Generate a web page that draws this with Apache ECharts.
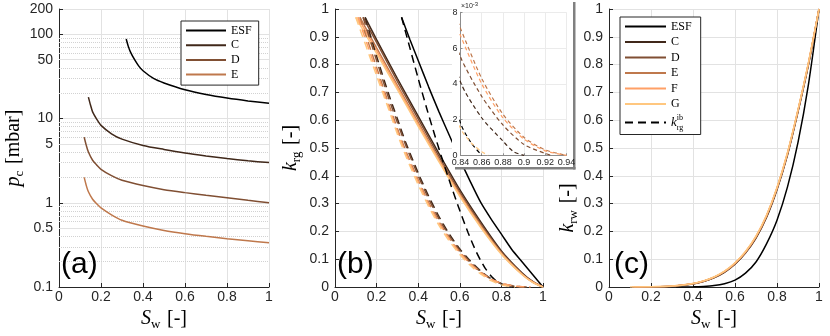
<!DOCTYPE html>
<html>
<head>
<meta charset="utf-8">
<script src="https://cdn.jsdelivr.net/npm/echarts@6/dist/echarts.min.js"></script>
<style>
  html, body { margin: 0; padding: 0; background: #fff; }
  #chart { width: 830px; height: 336px; }
</style>
</head>
<body>
<div id="chart"></div>
<script>
// (a) capillary pressure p_c [mbar] vs S_w
const pcESF = [[0.32,88],[0.33,72],[0.34,62],[0.36,50],[0.38,42],[0.40,37],[0.45,30],[0.5,26.5],[0.6,22],[0.7,19.3],[0.8,17.5],[0.9,16.2],[1,15.2]]
const pcC = [[0.14,18],[0.15,14.5],[0.16,12],[0.18,9.8],[0.2,8.3],[0.25,6.6],[0.3,5.7],[0.4,4.8],[0.5,4.3],[0.6,3.9],[0.7,3.6],[0.8,3.35],[0.9,3.15],[1,3.0]]
const pcD = [[0.12,6.0],[0.13,4.8],[0.14,4.0],[0.16,3.2],[0.18,2.8],[0.2,2.5],[0.25,2.1],[0.3,1.85],[0.4,1.6],[0.5,1.43],[0.6,1.32],[0.7,1.23],[0.8,1.15],[0.9,1.07],[1,1.0]]
const pcE = [[0.12,2.0],[0.13,1.6],[0.14,1.35],[0.16,1.1],[0.18,0.97],[0.2,0.87],[0.25,0.72],[0.3,0.62],[0.4,0.53],[0.5,0.47],[0.6,0.43],[0.7,0.4],[0.8,0.375],[0.9,0.355],[1,0.335]]

// log axis extra labels / minor grid
const pcMajorTicks = [0.5, 5, 50]
const pcMinorTicks = [0.2,0.3,0.4,0.6,0.7,0.8,0.9,2,3,4,6,7,8,9,20,30,40,60,70,80,90]

// (b) gas rel. perm k_rg, solid
const krgESF = [[0.32,0.97],[0.36,0.89],[0.4,0.815],[0.45,0.72],[0.5,0.63],[0.55,0.545],[0.6,0.46],[0.65,0.38],[0.7,0.305],[0.75,0.245],[0.8,0.19],[0.85,0.135],[0.9,0.09],[0.95,0.045],[1,0]]
const krgC = [[0.145,0.97],[0.2,0.89],[0.3,0.75],[0.4,0.615],[0.5,0.48],[0.6,0.35],[0.7,0.235],[0.8,0.13],[0.9,0.05],[0.95,0.02],[1,0]]
const krgD = [[0.135,0.97],[0.2,0.88],[0.3,0.74],[0.4,0.605],[0.5,0.47],[0.6,0.342],[0.7,0.228],[0.8,0.126],[0.9,0.048],[0.95,0.019],[1,0]]
const krgE = [[0.12,0.97],[0.2,0.86],[0.3,0.725],[0.4,0.592],[0.5,0.46],[0.6,0.335],[0.7,0.222],[0.8,0.122],[0.9,0.046],[0.95,0.018],[1,0]]
const krgF = [[0.11,0.97],[0.2,0.85],[0.3,0.718],[0.4,0.585],[0.5,0.455],[0.6,0.33],[0.7,0.218],[0.8,0.12],[0.9,0.045],[0.95,0.018],[1,0]]
const krgG = [[0.10,0.97],[0.2,0.84],[0.3,0.71],[0.4,0.578],[0.5,0.45],[0.6,0.326],[0.7,0.215],[0.8,0.118],[0.9,0.044],[0.95,0.017],[1,0]]

// (b) k_rg^ib, dashed
const ibESF = [[0.32,0.97],[0.36,0.86],[0.4,0.75],[0.44,0.645],[0.48,0.545],[0.52,0.45],[0.56,0.36],[0.6,0.275],[0.64,0.195],[0.68,0.125],[0.72,0.07],[0.76,0.032],[0.8,0.011],[0.84,0.0018],[0.85,0.0007],[0.86,0]]
const ibC = [[0.145,0.97],[0.2,0.83],[0.26,0.69],[0.3,0.605],[0.34,0.52],[0.4,0.41],[0.45,0.327],[0.5,0.253],[0.55,0.19],[0.6,0.137],[0.65,0.094],[0.7,0.058],[0.75,0.03],[0.8,0.012],[0.84,0.0041],[0.86,0.0021],[0.88,0.0008],[0.89,0.0002],[0.9,0]]
const ibD = [[0.135,0.97],[0.2,0.815],[0.26,0.675],[0.3,0.592],[0.34,0.51],[0.4,0.4],[0.45,0.318],[0.5,0.245],[0.55,0.183],[0.6,0.131],[0.65,0.089],[0.7,0.055],[0.75,0.029],[0.8,0.012],[0.84,0.0055],[0.86,0.0033],[0.88,0.0017],[0.9,0.0006],[0.92,0.0001],[0.925,0]]
const ibE = [[0.12,0.97],[0.2,0.79],[0.26,0.655],[0.3,0.57],[0.34,0.49],[0.4,0.385],[0.45,0.305],[0.5,0.235],[0.55,0.176],[0.6,0.126],[0.65,0.086],[0.7,0.054],[0.75,0.029],[0.8,0.013],[0.84,0.0071],[0.86,0.0043],[0.88,0.0023],[0.9,0.001],[0.92,0.0003],[0.94,0]]
const ibF = [[0.11,0.97],[0.2,0.775],[0.26,0.645],[0.3,0.56],[0.34,0.482],[0.4,0.378],[0.45,0.298],[0.5,0.23],[0.55,0.172],[0.6,0.123],[0.65,0.084],[0.7,0.052],[0.75,0.028],[0.8,0.0125],[0.84,0.0067],[0.86,0.004],[0.88,0.0021],[0.9,0.0009],[0.92,0.00025],[0.94,0]]
const ibG = [[0.10,0.97],[0.2,0.76],[0.26,0.635],[0.3,0.55],[0.34,0.472],[0.4,0.368],[0.45,0.29],[0.5,0.222],[0.55,0.165],[0.6,0.117],[0.65,0.078],[0.7,0.047],[0.75,0.023],[0.8,0.008],[0.84,0.0015],[0.85,0.0007],[0.86,0.0002],[0.866,0]]

// (c) water rel. perm k_rw
const krwESF = [[0.32,0],[0.4,0.0005],[0.45,0.002],[0.5,0.005],[0.55,0.012],[0.6,0.025],[0.65,0.05],[0.7,0.09],[0.75,0.155],[0.8,0.24],[0.85,0.36],[0.9,0.52],[0.95,0.73],[1,1]]
const krwC = [[0.145,0],[0.2,0.0003],[0.3,0.0027],[0.4,0.011],[0.45,0.02],[0.5,0.033],[0.55,0.053],[0.6,0.082],[0.65,0.122],[0.7,0.176],[0.75,0.25],[0.8,0.35],[0.85,0.475],[0.9,0.63],[0.95,0.8],[1,1]]
const krwD = [[0.135,0],[0.2,0.0004],[0.3,0.0029],[0.4,0.0115],[0.45,0.0205],[0.5,0.034],[0.55,0.054],[0.6,0.084],[0.65,0.124],[0.7,0.178],[0.75,0.253],[0.8,0.353],[0.85,0.478],[0.9,0.633],[0.95,0.803],[1,1]]
const krwE = [[0.12,0],[0.2,0.0004],[0.3,0.003],[0.4,0.012],[0.45,0.021],[0.5,0.035],[0.55,0.055],[0.6,0.085],[0.65,0.125],[0.7,0.18],[0.75,0.255],[0.8,0.355],[0.85,0.48],[0.9,0.635],[0.95,0.805],[1,1]]
const krwF = [[0.11,0],[0.2,0.0005],[0.3,0.0032],[0.4,0.0125],[0.45,0.0215],[0.5,0.0355],[0.55,0.056],[0.6,0.086],[0.65,0.127],[0.7,0.182],[0.75,0.257],[0.8,0.357],[0.85,0.482],[0.9,0.637],[0.95,0.807],[1,1]]
const krwG = [[0.10,0],[0.2,0.0005],[0.3,0.0033],[0.4,0.013],[0.45,0.022],[0.5,0.036],[0.55,0.057],[0.6,0.087],[0.65,0.128],[0.7,0.183],[0.75,0.258],[0.8,0.358],[0.85,0.484],[0.9,0.638],[0.95,0.808],[1,1]]

const names = ['ESF', 'C', 'D', 'E', 'F', 'G']
// copper colormap steps
const colors = ['#000000', '#40281a', '#804f33', '#bf784c', '#ffa066', '#ffc77f']
const panelLabels = ['(a)', '(b)', '(c)']

const sans = "'Liberation Sans Narrow', 'Liberation Sans', Arial, sans-serif"
const serif = "'Liberation Serif', 'DejaVu Serif', serif"
const axisColor = '#262626'
const gridColor = '#e2e2e2'
const minorColor = '#d2d2d2'

const nameRich = {
    i: { fontFamily: serif, fontStyle: 'italic', fontSize: 20, lineHeight: 24, color: '#000' },
    s: { fontFamily: serif, fontSize: 13, lineHeight: 13, verticalAlign: 'bottom', color: '#000' },
    n: { fontFamily: serif, fontSize: 20, lineHeight: 24, color: '#000' }
}

function line(name, data, i, grid, extra){
    return Object.assign({
        type: 'line', name, data, xAxisIndex: grid, yAxisIndex: grid,
        symbol: 'none', smooth: 0.25,
        lineStyle: { color: colors[i], width: 1.5 },
        itemStyle: { color: colors[i] },
        z: 2
    }, extra)
}

function baseAxis(grid, extra){
    return Object.assign({
        type: 'value', gridIndex: grid,
        axisLine: { show: true, onZero: false, lineStyle: { color: axisColor, width: 1 } },
        axisTick: { show: true, inside: true, length: 4, lineStyle: { color: axisColor } },
        axisLabel: { color: '#262626', fontFamily: sans, fontSize: 14 },
        splitLine: { show: true, lineStyle: { color: gridColor, width: 1 } },
        nameTextStyle: { rich: nameRich }
    }, extra)
}

function xAxis(grid){
    return baseAxis(grid, {
        min: 0, max: 1, interval: 0.2,
        axisLabel: { color: '#262626', fontFamily: sans, fontSize: 14, margin: 3 },
        name: '{i|S}{s|w}  {n|[-]}', nameLocation: 'middle', nameGap: 20
    })
}

function krAxis(grid, sub, gap, pad){
    return baseAxis(grid, {
        min: 0, max: 1, interval: 0.1,
        axisLabel: { color: '#262626', fontFamily: sans, fontSize: 14, margin: 6 },
        name: '{i|k}{s|' + sub + '}  {n|[-]}', nameLocation: 'middle', nameRotate: 90, nameGap: gap,
        nameTextStyle: { rich: nameRich, padding: pad }
    })
}

const pcData = [pcESF, pcC, pcD, pcE]
const krgData = [krgESF, krgC, krgD, krgE, krgF, krgG]
const ibData = [ibESF, ibC, ibD, ibE, ibF, ibG]
const krwData = [krwESF, krwC, krwD, krwE, krwF, krwG]

const series = []

// grid lines for the log axis, kept under the curves
series.push({
    type: 'line', data: [], xAxisIndex: 0, yAxisIndex: 0, z: 1, silent: true,
    markLine: {
        silent: true, symbol: ['none', 'none'], animation: false, z: 1,
        data: pcMajorTicks.map(v => ({
            yAxis: v,
            lineStyle: { color: gridColor, width: 1, type: 'solid' },
            label: { show: true, position: 'start', distance: 6, formatter: String(v), color: '#262626', fontFamily: sans, fontSize: 14 }
        })).concat(pcMinorTicks.map(v => ({
            yAxis: v,
            lineStyle: { color: minorColor, width: 1, type: 'dotted' },
            label: { show: false }
        })))
    }
})

pcData.forEach((d, i) => series.push(line(names[i], d, i, 0)))
krgData.forEach((d, i) => series.push(line(names[i], d, i, 1)))
ibData.forEach((d, i) => series.push(line(i === 0 ? 'kib' : names[i] + ' ib', d, i, 1,
    { lineStyle: { color: colors[i], width: 1.5, type: [8, 5] } })))
krwData.forEach((d, i) => series.push(line(names[i], d, i, 2)))
// inset: zoom on the tails of k_rg^ib
ibData.forEach((d, i) => series.push(line(names[i] + ' inset', d, i, 3,
    { z: 7, lineStyle: { color: colors[i], width: 1.2, type: [4, 3] } })))

const insetAxis = {
    axisLine: { show: true, onZero: false, lineStyle: { color: '#8c8c8c', width: 1 } },
    axisTick: { show: true, inside: true, length: 2, lineStyle: { color: '#8c8c8c' } },
    splitLine: { show: true, lineStyle: { color: '#ebebeb', width: 1 } },
    z: 6
}

const legendBase = {
    orient: 'vertical', itemHeight: 12, borderRadius: 0,
    backgroundColor: '#fff', borderColor: axisColor, borderWidth: 1,
    selectedMode: false, z: 8,
    // line samples only, no marker
    itemStyle: { opacity: 0, borderWidth: 0 }
}

const chart = echarts.init(document.getElementById('chart'))
chart.setOption({
    animation: false,
    backgroundColor: '#fff',
    grid: [
        { left: 59, top: 9, width: 210, height: 278 },
        { left: 335, top: 9, width: 208, height: 278 },
        { left: 609, top: 9, width: 210, height: 278 },
        { left: 460.5, top: 12.3, width: 106, height: 143, z: 6 }
    ],
    xAxis: [
        xAxis(0), xAxis(1), xAxis(2),
        Object.assign({ type: 'value', gridIndex: 3, min: 0.84, max: 0.94, interval: 0.02,
            axisLabel: { color: '#262626', fontFamily: sans, fontSize: 9, margin: 3 } }, insetAxis)
    ],
    yAxis: [
        baseAxis(0, {
            type: 'log', logBase: 10, min: 0.1, max: 200,
            axisLabel: { color: '#262626', fontFamily: sans, fontSize: 14, margin: 6, formatter: v => String(v) },
            name: '{i|p}{s|c}  {n|[mbar]}', nameLocation: 'middle', nameRotate: 90, nameGap: 27
        }),
        krAxis(1, 'rg', 32, 0),
        krAxis(2, 'rw', 27, [0, 120, 0, 0]),
        Object.assign({ type: 'value', gridIndex: 3, min: 0, max: 0.008, interval: 0.002,
            axisLabel: { color: '#262626', fontFamily: sans, fontSize: 9, margin: 3, formatter: v => String(Math.round(v * 1000)) } }, insetAxis)
    ],
    legend: [
        Object.assign({}, legendBase, {
            data: names.slice(0, 4), left: 181, top: 21,
            padding: [3.5, 7, 4.5, 4], itemWidth: 40, itemGap: 2.7,
            textStyle: { fontFamily: serif, fontSize: 12, color: '#000', lineHeight: 12 }
        }),
        Object.assign({}, legendBase, {
            data: names.concat(['kib']), left: 620, top: 17,
            padding: [3.5, 9, 3, 4], itemWidth: 41, itemGap: 3.5,
            formatter: n => n === 'kib' ? '{k|k}{b|rg}{p|ib}' : n,
            textStyle: {
                fontFamily: serif, fontSize: 12, color: '#000', lineHeight: 12,
                rich: {
                    k: { fontFamily: serif, fontStyle: 'italic', fontSize: 13, lineHeight: 18, color: '#000' },
                    b: { fontFamily: serif, fontSize: 8, lineHeight: 8, verticalAlign: 'bottom', width: 0, color: '#000' },
                    p: { fontFamily: serif, fontSize: 8, lineHeight: 8, verticalAlign: 'top', color: '#000' }
                }
            }
        })
    ],
    graphic: [
        // inset frame and its shadow
        { type: 'rect', silent: true, z: 5, shape: { x: 452, y: 0, width: 121, height: 167 }, style: { fill: '#fff' } },
        { type: 'rect', silent: true, z: 5, shape: { x: 573, y: 2, width: 2.5, height: 167.5 }, style: { fill: '#808080' } },
        { type: 'rect', silent: true, z: 5, shape: { x: 455, y: 167, width: 120.5, height: 2.5 }, style: { fill: '#808080' } },
        { type: 'text', silent: true, z: 8, x: 461, y: 1, style: {
            text: '{a|×10}{b|-3}', align: 'left', verticalAlign: 'top',
            rich: { a: { fontFamily: sans, fontSize: 7, fill: '#262626', lineHeight: 9, verticalAlign: 'bottom' },
                    b: { fontFamily: sans, fontSize: 6, fill: '#262626', lineHeight: 6, verticalAlign: 'top' } } } },
        ...panelLabels.map((t, i) => ({
            type: 'text', silent: true, z: 8, x: [61, 337, 614][i], y: 250,
            style: { text: t, fontFamily: "'Liberation Sans', Arial, sans-serif", fontSize: 30, fill: '#000', align: 'left', verticalAlign: 'top' }
        }))
    ],
    series
})
</script>
</body>
</html>
